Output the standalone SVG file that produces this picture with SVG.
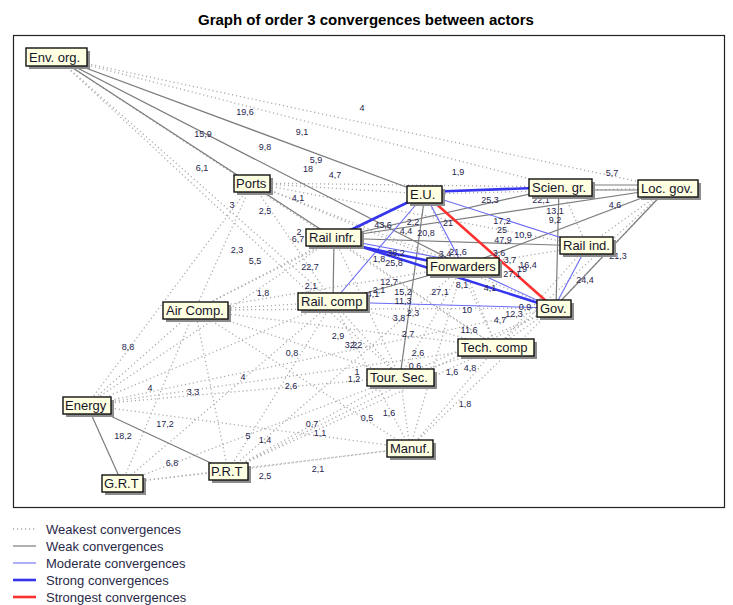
<svg xmlns="http://www.w3.org/2000/svg" width="733" height="605" viewBox="0 0 733 605">
<style>
.t{font-family:"Liberation Sans",Arial,sans-serif;}
.title{font-size:15px;font-weight:bold;fill:#000;}
.w0{stroke:#ababab;stroke-width:1.3;stroke-dasharray:1.2 2.8;fill:none;}
.w1{stroke:#7c7c7c;stroke-width:1.2;fill:none;}
.w2{stroke:#6a6af5;stroke-width:1.1;fill:none;}
.w3{stroke:#3535ee;stroke-width:2.6;fill:none;}
.w4{stroke:#ff3030;stroke-width:2.6;fill:none;}
.lbl{font-family:"Liberation Sans",Arial,sans-serif;font-size:9px;fill:#25254d;text-anchor:middle;}
.box{fill:#ffffe1;stroke:#111;stroke-width:1.4;}
.sh{fill:#8c8c8c;}
.nt{font-family:"Liberation Sans",Arial,sans-serif;font-size:13px;fill:#14142c;}
.leg{font-family:"Liberation Sans",Arial,sans-serif;font-size:13px;fill:#2a2a48;}
</style>
<rect x="0" y="0" width="733" height="605" fill="#fff"/>
<text class="t title" x="366" y="25" text-anchor="middle">Graph of order 3 convergences between actors</text>
<rect x="13.5" y="35.5" width="711" height="472" fill="none" stroke="#222" stroke-width="1.2"/>

<g id="connectors">
<g id="weakest">
<line class="w0" x1="56" y1="57" x2="668" y2="188"/>
<line class="w0" x1="56" y1="57" x2="561" y2="187"/>
<line class="w0" x1="56" y1="57" x2="333" y2="302"/>
<line class="w0" x1="56" y1="57" x2="400" y2="377"/>
<line class="w0" x1="56" y1="57" x2="497" y2="347"/>
<line class="w0" x1="252" y1="183" x2="425" y2="194"/>
<line class="w0" x1="252" y1="183" x2="561" y2="187"/>
<line class="w0" x1="252" y1="183" x2="587" y2="246"/>
<line class="w0" x1="252" y1="183" x2="463" y2="266"/>
<line class="w0" x1="252" y1="183" x2="195" y2="310"/>
<line class="w0" x1="252" y1="183" x2="87" y2="405"/>
<line class="w0" x1="252" y1="183" x2="554" y2="308"/>
<line class="w0" x1="252" y1="183" x2="333" y2="302"/>
<line class="w0" x1="425" y1="194" x2="668" y2="188"/>
<line class="w0" x1="195" y1="310" x2="334" y2="238"/>
<line class="w0" x1="195" y1="310" x2="333" y2="302"/>
<line class="w0" x1="195" y1="310" x2="463" y2="266"/>
<line class="w0" x1="195" y1="310" x2="554" y2="308"/>
<line class="w0" x1="195" y1="310" x2="400" y2="377"/>
<line class="w0" x1="195" y1="310" x2="497" y2="347"/>
<line class="w0" x1="195" y1="310" x2="87" y2="405"/>
<line class="w0" x1="195" y1="310" x2="228" y2="471"/>
<line class="w0" x1="195" y1="310" x2="122" y2="483"/>
<line class="w0" x1="195" y1="310" x2="410" y2="448"/>
<line class="w0" x1="195" y1="310" x2="425" y2="194"/>
<line class="w0" x1="87" y1="405" x2="333" y2="302"/>
<line class="w0" x1="87" y1="405" x2="400" y2="377"/>
<line class="w0" x1="87" y1="405" x2="497" y2="347"/>
<line class="w0" x1="87" y1="405" x2="554" y2="308"/>
<line class="w0" x1="87" y1="405" x2="410" y2="448"/>
<line class="w0" x1="87" y1="405" x2="334" y2="238"/>
<line class="w0" x1="122" y1="483" x2="228" y2="471"/>
<line class="w0" x1="122" y1="483" x2="410" y2="448"/>
<line class="w0" x1="122" y1="483" x2="400" y2="377"/>
<line class="w0" x1="122" y1="483" x2="333" y2="302"/>
<line class="w0" x1="228" y1="471" x2="410" y2="448"/>
<line class="w0" x1="228" y1="471" x2="400" y2="377"/>
<line class="w0" x1="228" y1="471" x2="497" y2="347"/>
<line class="w0" x1="228" y1="471" x2="554" y2="308"/>
<line class="w0" x1="228" y1="471" x2="333" y2="302"/>
<line class="w0" x1="228" y1="471" x2="463" y2="266"/>
<line class="w0" x1="410" y1="448" x2="400" y2="377"/>
<line class="w0" x1="410" y1="448" x2="497" y2="347"/>
<line class="w0" x1="410" y1="448" x2="554" y2="308"/>
<line class="w0" x1="410" y1="448" x2="463" y2="266"/>
<line class="w0" x1="410" y1="448" x2="333" y2="302"/>
<line class="w0" x1="400" y1="377" x2="497" y2="347"/>
<line class="w0" x1="400" y1="377" x2="554" y2="308"/>
<line class="w0" x1="400" y1="377" x2="463" y2="266"/>
<line class="w0" x1="400" y1="377" x2="333" y2="302"/>
<line class="w0" x1="400" y1="377" x2="334" y2="238"/>
<line class="w0" x1="497" y1="347" x2="554" y2="308"/>
<line class="w0" x1="497" y1="347" x2="463" y2="266"/>
<line class="w0" x1="497" y1="347" x2="333" y2="302"/>
<line class="w0" x1="497" y1="347" x2="334" y2="238"/>
<line class="w0" x1="497" y1="347" x2="425" y2="194"/>
<line class="w0" x1="497" y1="347" x2="587" y2="246"/>
<line class="w0" x1="561" y1="187" x2="587" y2="246"/>
<line class="w0" x1="668" y1="188" x2="587" y2="246"/>
<line class="w0" x1="668" y1="188" x2="497" y2="347"/>
<line class="w0" x1="668" y1="188" x2="554" y2="308"/>
<line class="w0" x1="587" y1="246" x2="463" y2="266"/>
</g>
<g id="weak">
<line class="w1" x1="56" y1="57" x2="425" y2="194"/>
<line class="w1" x1="56" y1="57" x2="463" y2="266"/>
<line class="w1" x1="56" y1="57" x2="334" y2="238"/>
<line class="w1" x1="334" y1="238" x2="561" y2="187"/>
<line class="w1" x1="334" y1="238" x2="668" y2="188"/>
<line class="w1" x1="334" y1="238" x2="587" y2="246"/>
<line class="w1" x1="334" y1="238" x2="333" y2="302"/>
<line class="w1" x1="561" y1="185" x2="668" y2="185"/>
<line class="w1" x1="561" y1="190" x2="668" y2="190"/>
<line class="w1" x1="559" y1="187" x2="556" y2="308"/>
<line class="w1" x1="668" y1="188" x2="554" y2="308"/>
<line class="w1" x1="668" y1="188" x2="463" y2="266"/>
<line class="w1" x1="425" y1="194" x2="400" y2="377"/>
<line class="w1" x1="333" y1="302" x2="463" y2="266"/>
<line class="w1" x1="87" y1="405" x2="122" y2="483"/>
<line class="w1" x1="87" y1="405" x2="228" y2="471"/>
</g>
<g id="moderate">
<line class="w2" x1="425" y1="194" x2="333" y2="302"/>
<line class="w2" x1="425" y1="194" x2="587" y2="246"/>
<line class="w2" x1="425" y1="194" x2="463" y2="266"/>
<line class="w2" x1="333" y1="302" x2="554" y2="308"/>
<line class="w2" x1="587" y1="246" x2="554" y2="308"/>
<line class="w2" x1="463" y1="266" x2="554" y2="308"/>
<line class="w2" x1="334" y1="238" x2="463" y2="262"/>
</g>
<g id="strong">
<line class="w3" x1="425" y1="194" x2="334" y2="238"/>
<line class="w3" x1="425" y1="192" x2="561" y2="187"/>
<line class="w3" x1="334" y1="241" x2="463" y2="268"/>
<line class="w3" x1="334" y1="238" x2="554" y2="308"/>
</g>
<g id="strongest">
<line class="w4" x1="425" y1="194" x2="554" y2="308"/>
</g>
<g id="edge-labels">
<text class="lbl" x="245" y="115">19,6</text>
<text class="lbl" x="362" y="111">4</text>
<text class="lbl" x="203" y="137">15,9</text>
<text class="lbl" x="302" y="135">9,1</text>
<text class="lbl" x="265" y="150">9,8</text>
<text class="lbl" x="202" y="171">6,1</text>
<text class="lbl" x="316" y="163">5,9</text>
<text class="lbl" x="308" y="172">18</text>
<text class="lbl" x="335" y="178">4,7</text>
<text class="lbl" x="458" y="175">1,9</text>
<text class="lbl" x="612" y="176">5,7</text>
<text class="lbl" x="232" y="208">3</text>
<text class="lbl" x="265" y="214">2,5</text>
<text class="lbl" x="298" y="201">4,1</text>
<text class="lbl" x="490" y="203">25,3</text>
<text class="lbl" x="541" y="203">22,1</text>
<text class="lbl" x="555" y="214">13,1</text>
<text class="lbl" x="555" y="223">9,2</text>
<text class="lbl" x="615" y="208">4,6</text>
<text class="lbl" x="502" y="224">17,2</text>
<text class="lbl" x="502" y="233">25</text>
<text class="lbl" x="503" y="243">47,9</text>
<text class="lbl" x="523" y="238">10,9</text>
<text class="lbl" x="448" y="226">21</text>
<text class="lbl" x="383" y="228">43,6</text>
<text class="lbl" x="413" y="225">2,2</text>
<text class="lbl" x="406" y="234">4,4</text>
<text class="lbl" x="426" y="236">20,8</text>
<text class="lbl" x="299" y="235">2</text>
<text class="lbl" x="298" y="242">6,7</text>
<text class="lbl" x="237" y="253">2,3</text>
<text class="lbl" x="255" y="264">5,5</text>
<text class="lbl" x="310" y="270">22,7</text>
<text class="lbl" x="311" y="289">2,1</text>
<text class="lbl" x="263" y="296">1,8</text>
<text class="lbl" x="396" y="256">38,2</text>
<text class="lbl" x="379" y="262">1,8</text>
<text class="lbl" x="394" y="266">25,8</text>
<text class="lbl" x="445" y="257">3,4</text>
<text class="lbl" x="458" y="255">21,6</text>
<text class="lbl" x="499" y="256">3,6</text>
<text class="lbl" x="510" y="263">3,7</text>
<text class="lbl" x="528" y="268">16,4</text>
<text class="lbl" x="522" y="272">19</text>
<text class="lbl" x="512" y="277">27,1</text>
<text class="lbl" x="618" y="259">21,3</text>
<text class="lbl" x="585" y="283">24,4</text>
<text class="lbl" x="389" y="285">12,7</text>
<text class="lbl" x="403" y="295">15,2</text>
<text class="lbl" x="373" y="297">4,1</text>
<text class="lbl" x="379" y="293">2,1</text>
<text class="lbl" x="403" y="304">11,3</text>
<text class="lbl" x="440" y="295">27,1</text>
<text class="lbl" x="462" y="288">8,1</text>
<text class="lbl" x="490" y="291">4,1</text>
<text class="lbl" x="467" y="313">10</text>
<text class="lbl" x="525" y="310">0,9</text>
<text class="lbl" x="514" y="317">12,3</text>
<text class="lbl" x="500" y="323">4,7</text>
<text class="lbl" x="399" y="321">3,8</text>
<text class="lbl" x="413" y="316">2,3</text>
<text class="lbl" x="469" y="333">11,6</text>
<text class="lbl" x="338" y="339">2,9</text>
<text class="lbl" x="351" y="348">3,2</text>
<text class="lbl" x="356" y="348">2,2</text>
<text class="lbl" x="408" y="337">2,7</text>
<text class="lbl" x="292" y="356">0,8</text>
<text class="lbl" x="418" y="356">2,6</text>
<text class="lbl" x="415" y="369">0,6</text>
<text class="lbl" x="243" y="380">4</text>
<text class="lbl" x="357" y="375">1</text>
<text class="lbl" x="354" y="382">1,2</text>
<text class="lbl" x="291" y="389">2,6</text>
<text class="lbl" x="452" y="375">1,6</text>
<text class="lbl" x="470" y="371">4,8</text>
<text class="lbl" x="465" y="407">1,8</text>
<text class="lbl" x="389" y="416">1,6</text>
<text class="lbl" x="367" y="421">0,5</text>
<text class="lbl" x="312" y="427">0,7</text>
<text class="lbl" x="320" y="436">1,1</text>
<text class="lbl" x="248" y="439">5</text>
<text class="lbl" x="265" y="443">1,4</text>
<text class="lbl" x="318" y="472">2,1</text>
<text class="lbl" x="265" y="479">2,5</text>
<text class="lbl" x="128" y="350">8,8</text>
<text class="lbl" x="150" y="391">4</text>
<text class="lbl" x="193" y="395">3,3</text>
<text class="lbl" x="165" y="427">17,2</text>
<text class="lbl" x="123" y="439">18,2</text>
<text class="lbl" x="172" y="466">6,8</text>
</g>
</g>

<g id="node-env"><rect class="sh" x="29" y="51" width="61" height="18"/><rect class="box" x="26" y="48" width="61" height="18"/><text class="nt" x="29" y="62">Env. org.</text></g>
<g id="node-ports"><rect class="sh" x="237" y="178" width="36" height="17"/><rect class="box" x="234" y="175" width="36" height="17"/><text class="nt" x="236" y="188">Ports</text></g>
<g id="node-eu"><rect class="sh" x="410" y="189" width="35" height="17"/><rect class="box" x="407" y="186" width="35" height="17"/><text class="nt" x="410" y="199">E.U.</text></g>
<g id="node-sci"><rect class="sh" x="532" y="182" width="63" height="17"/><rect class="box" x="529" y="179" width="63" height="17"/><text class="nt" x="532" y="192">Scien. gr.</text></g>
<g id="node-loc"><rect class="sh" x="641" y="183" width="60" height="17"/><rect class="box" x="638" y="180" width="60" height="17"/><text class="nt" x="641" y="193">Loc. gov.</text></g>
<g id="node-rinf"><rect class="sh" x="309" y="232" width="55" height="17"/><rect class="box" x="306" y="229" width="55" height="17"/><text class="nt" x="309" y="242">Rail infr.</text></g>
<g id="node-rind"><rect class="sh" x="563" y="240" width="53" height="17"/><rect class="box" x="560" y="237" width="53" height="17"/><text class="nt" x="563" y="250">Rail ind.</text></g>
<g id="node-fwd"><rect class="sh" x="430" y="261" width="72" height="17"/><rect class="box" x="427" y="258" width="72" height="17"/><text class="nt" x="430" y="271">Forwarders</text></g>
<g id="node-rcomp"><rect class="sh" x="301" y="296" width="69" height="17"/><rect class="box" x="298" y="293" width="69" height="17"/><text class="nt" x="301" y="306">Rail. comp</text></g>
<g id="node-air"><rect class="sh" x="166" y="305" width="65" height="17"/><rect class="box" x="163" y="302" width="65" height="17"/><text class="nt" x="166" y="315">Air Comp.</text></g>
<g id="node-gov"><rect class="sh" x="540" y="303" width="34" height="17"/><rect class="box" x="537" y="300" width="34" height="17"/><text class="nt" x="540" y="313">Gov.</text></g>
<g id="node-tech"><rect class="sh" x="461" y="342" width="76" height="17"/><rect class="box" x="458" y="339" width="76" height="17"/><text class="nt" x="461" y="352">Tech. comp</text></g>
<g id="node-tour"><rect class="sh" x="370" y="372" width="67" height="17"/><rect class="box" x="367" y="369" width="67" height="17"/><text class="nt" x="370" y="382">Tour. Sec.</text></g>
<g id="node-energy"><rect class="sh" x="66" y="400" width="48" height="17"/><rect class="box" x="63" y="397" width="48" height="17"/><text class="nt" x="65" y="410">Energy</text></g>
<g id="node-manuf"><rect class="sh" x="390" y="443" width="46" height="17"/><rect class="box" x="387" y="440" width="46" height="17"/><text class="nt" x="390" y="453">Manuf.</text></g>
<g id="node-prt"><rect class="sh" x="212" y="466" width="39" height="17"/><rect class="box" x="209" y="463" width="39" height="17"/><text class="nt" x="211" y="476">P.R.T</text></g>
<g id="node-grt"><rect class="sh" x="105" y="478" width="41" height="17"/><rect class="box" x="102" y="475" width="41" height="17"/><text class="nt" x="104" y="488">G.R.T</text></g>

<g id="legend">
<line class="w0" x1="13" y1="529" x2="36" y2="529"/>
<text class="leg" x="46" y="534">Weakest convergences</text>
<line class="w1" x1="13" y1="546" x2="36" y2="546"/>
<text class="leg" x="46" y="551">Weak convergences</text>
<line class="w2" x1="13" y1="563" x2="36" y2="563"/>
<text class="leg" x="46" y="568">Moderate convergences</text>
<line class="w3" x1="13" y1="580" x2="36" y2="580"/>
<text class="leg" x="46" y="585">Strong convergences</text>
<line class="w4" x1="13" y1="597" x2="36" y2="597"/>
<text class="leg" x="46" y="602">Strongest convergences</text>
</g>
</svg>
